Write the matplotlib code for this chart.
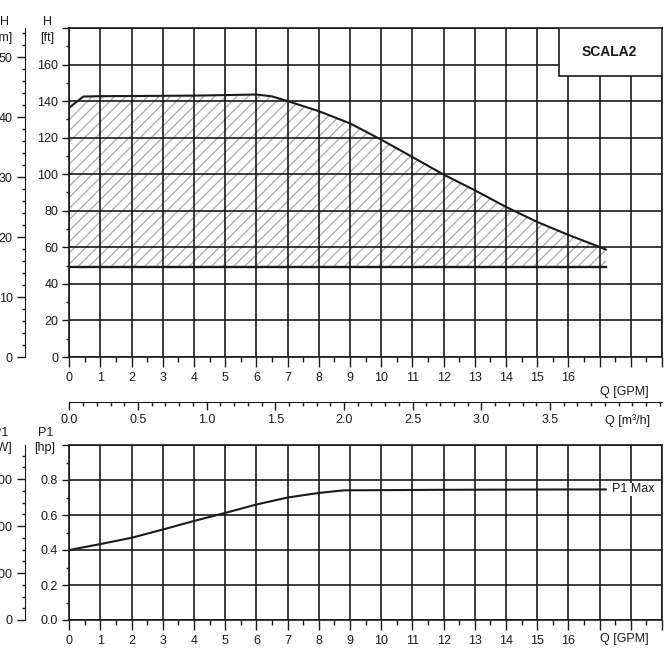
import numpy as np
import matplotlib
matplotlib.use("Agg")
import matplotlib.pyplot as plt
from matplotlib.ticker import MultipleLocator
from matplotlib.patches import Rectangle

plt.rcParams['font.family'] = ['Liberation Sans', 'DejaVu Sans']
plt.rcParams['font.size'] = 9
plt.rcParams['hatch.linewidth'] = 0.9
plt.rcParams['hatch.color'] = '#a8a8a8'

# pump curve (Q in GPM, H in ft)
q_head = [0, 0.45, 1, 2, 3, 4, 5, 6, 6.5, 7, 8, 9, 10, 11, 12, 13, 14, 15, 16, 17, 17.2]
h_head = [136.5, 142.5, 142.7, 142.8, 142.9, 143.0, 143.3, 143.6, 142.6, 140.0, 134.5,
          127.8, 118.9, 109.4, 99.8, 91.2, 82.1, 73.9, 66.8, 60.2, 58.8]
h_min = 49.3          # lower limit line
q_end = 17.2

# power curve (Q in GPM, P1 in hp)
q_pow = [0, 1, 2, 3, 4, 5, 6, 7, 8, 8.8, 10, 12, 14, 16, 17.2]
p_pow = [0.40, 0.434, 0.47, 0.517, 0.566, 0.612, 0.66, 0.70, 0.726, 0.741, 0.742,
         0.744, 0.745, 0.746, 0.746]

gpm_ticks = list(range(0, 17))
m3h_ticks = [0.0, 0.5, 1.0, 1.5, 2.0, 2.5, 3.0, 3.5]

FT_PER_M = 3.2808
GPM_PER_M3H = 4.4029
W_PER_HP = 745.7
TXT = '#1a1a1a'
W, H = 670, 670


def fx(px):
    return px / W


def fy(py):
    return 1 - py / H


fig = plt.figure(figsize=(6.7, 6.7), dpi=100)

left, right = 69.3, 662
xmax = 19.0

# ---------- top: head ----------
ax = fig.add_axes([fx(left), fy(357), fx(right - left), (357 - 28) / H])
ax.set_xlim(0, xmax)
ax.set_ylim(0, 180)
ax.fill_between(q_head, h_min, h_head, facecolor='none', hatch='///',
                edgecolor='#a8a8a8', linewidth=0, zorder=1)
ax.plot(q_head, h_head, color=TXT, lw=1.5, zorder=3)
ax.plot([0, q_end], [h_min, h_min], color=TXT, lw=1.7, zorder=3)

ax.xaxis.set_major_locator(MultipleLocator(1))
ax.xaxis.set_minor_locator(MultipleLocator(0.5))
ax.yaxis.set_major_locator(MultipleLocator(20))
ax.yaxis.set_minor_locator(MultipleLocator(10))
ax.grid(True, which='major', color=TXT, lw=1.2, zorder=2)
ax.set_axisbelow(False)
ax.set_xticks(range(0, 20))
ax.set_xticklabels([str(t) if t in gpm_ticks else '' for t in range(0, 20)])
ax.set_yticks(range(0, 181, 20))
ax.set_yticklabels([str(v) if v < 180 else '' for v in range(0, 181, 20)])
ax.tick_params(axis='x', which='major', length=7, width=1, pad=4, colors=TXT)
ax.tick_params(axis='x', which='minor', length=3.5, width=1, colors=TXT)
ax.tick_params(axis='y', which='major', length=5, width=1, pad=3, colors=TXT)
ax.tick_params(axis='y', which='minor', length=2.5, width=1, colors=TXT)
for s in ax.spines.values():
    s.set_color(TXT)
    s.set_linewidth(1.2)
ax.text(17.8, -19, 'Q [GPM]', ha='center', va='center', color=TXT, clip_on=False)

# title box
ax.add_patch(Rectangle((15.7, 153.5), xmax - 15.7, 180 - 153.5, facecolor='white',
                       edgecolor=TXT, lw=1.2, zorder=4))
ax.text(17.3, 167, 'SCALA2', ha='center', va='center', fontsize=10,
        fontweight='bold', color=TXT, zorder=5)

# metres axis
axm = ax.twinx()
axm.set_ylim(0, 180 / FT_PER_M)
axm.yaxis.set_ticks_position('left')
axm.yaxis.set_label_position('left')
axm.spines['left'].set_visible(True)
axm.spines['left'].set_position(('outward', 44 * 0.72))
for k in ['right', 'top', 'bottom']:
    axm.spines[k].set_visible(False)
axm.spines['left'].set_color(TXT)
axm.yaxis.set_major_locator(MultipleLocator(10))
axm.yaxis.set_minor_locator(MultipleLocator(2))
axm.tick_params(axis='y', which='major', length=6, width=1, pad=3, colors=TXT)
axm.tick_params(axis='y', which='minor', length=2.5, width=1, colors=TXT)

fig.text(fx(47), fy(22), 'H', ha='center', va='center', color=TXT)
fig.text(fx(47), fy(38), '[ft]', ha='center', va='center', color=TXT)
fig.text(fx(9), fy(22), 'H', ha='right', va='center', color=TXT)
fig.text(fx(12), fy(38), '[m]', ha='right', va='center', color=TXT)

# ---------- middle: m3/h scale ----------
axq = fig.add_axes([fx(left), fy(401.7), fx(right - left), 0.0001])
axq.set_xlim(0, xmax / GPM_PER_M3H)
axq.set_yticks([])
for k in ['left', 'right', 'top']:
    axq.spines[k].set_visible(False)
axq.spines['bottom'].set_color(TXT)
axq.set_xticks(m3h_ticks)
axq.set_xticklabels([f'{v:.1f}' for v in m3h_ticks])
axq.xaxis.set_minor_locator(MultipleLocator(0.1))
axq.tick_params(axis='x', which='major', length=6, width=1, pad=3, colors=TXT)
axq.tick_params(axis='x', which='minor', length=3, width=1, colors=TXT)
axq.patch.set_visible(False)
fig.text(fx(628), fy(421), 'Q [m³/h]', ha='center', va='center', color=TXT)

# ---------- bottom: power ----------
axp = fig.add_axes([fx(left), fy(620), fx(right - left), (620 - 445) / H])
axp.set_xlim(0, xmax)
axp.set_ylim(0, 1.0)
axp.plot(q_pow, p_pow, color=TXT, lw=1.5, zorder=3)
axp.text(17.4, p_pow[-1], 'P1 Max', ha='left', va='center', color=TXT, zorder=5,
         bbox=dict(facecolor='white', edgecolor='none', pad=0.5))
axp.set_xticks(range(0, 20))
axp.set_xticklabels([str(t) if t in gpm_ticks else '' for t in range(0, 20)])
axp.xaxis.set_minor_locator(MultipleLocator(0.5))
axp.set_yticks([0.0, 0.2, 0.4, 0.6, 0.8, 1.0])
axp.set_yticklabels(['0.0', '0.2', '0.4', '0.6', '0.8', ''])
axp.yaxis.set_minor_locator(MultipleLocator(0.1))
axp.grid(True, which='major', color=TXT, lw=1.2, zorder=2)
axp.tick_params(axis='x', which='major', length=7, width=1, pad=4, colors=TXT)
axp.tick_params(axis='x', which='minor', length=3.5, width=1, colors=TXT)
axp.tick_params(axis='y', which='major', length=5, width=1, pad=3, colors=TXT)
axp.tick_params(axis='y', which='minor', length=2.5, width=1, colors=TXT)
for s in axp.spines.values():
    s.set_color(TXT)
    s.set_linewidth(1.2)
axp.text(17.8, -0.11, 'Q [GPM]', ha='center', va='center', color=TXT, clip_on=False)

axw = axp.twinx()
axw.set_ylim(0, 1.0 * W_PER_HP)
axw.yaxis.set_ticks_position('left')
axw.spines['left'].set_visible(True)
axw.spines['left'].set_position(('outward', 44 * 0.72))
for k in ['right', 'top', 'bottom']:
    axw.spines[k].set_visible(False)
axw.spines['left'].set_color(TXT)
axw.yaxis.set_major_locator(MultipleLocator(200))
axw.yaxis.set_minor_locator(MultipleLocator(50))
axw.tick_params(axis='y', which='major', length=6, width=1, pad=3, colors=TXT)
axw.tick_params(axis='y', which='minor', length=2.5, width=1, colors=TXT)

fig.text(fx(46), fy(433), 'P1', ha='center', va='center', color=TXT)
fig.text(fx(45), fy(448), '[hp]', ha='center', va='center', color=TXT)
fig.text(fx(8), fy(433), 'P1', ha='right', va='center', color=TXT)
fig.text(fx(12), fy(448), '[W]', ha='right', va='center', color=TXT)

fig.savefig('out.png', dpi=100, facecolor='white')
